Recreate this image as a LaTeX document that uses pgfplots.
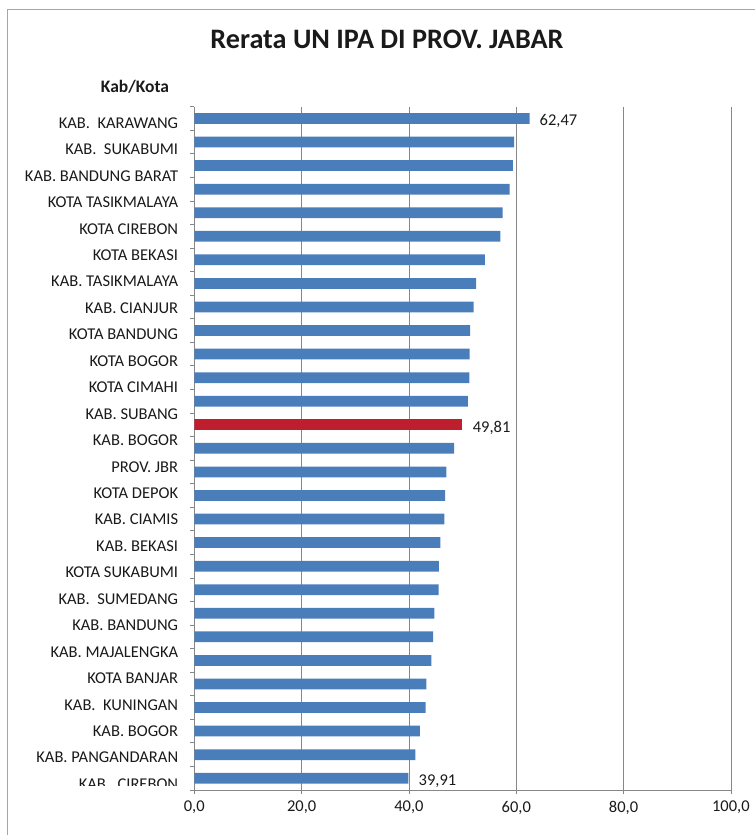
\documentclass[border=0pt]{standalone}
\usepackage{pgfplots}
\pgfplotsset{compat=1.18}
\usepackage{fontspec}
\setmainfont{Carlito}

\definecolor{barblue}{HTML}{4A7EBB}
\definecolor{barred}{HTML}{BE1E2D}
\definecolor{gridgray}{HTML}{878787}
\definecolor{framegray}{HTML}{A6A6A6}
\definecolor{txt}{HTML}{1A1A1A}

\pgfplotsset{
  hbar/.style={xbar, bar width=10.7pt, bar shift=0pt, draw=none},
}
\newcommand{\lblfont}{\fontsize{16.5}{19}\selectfont}

\begin{document}
\begin{tikzpicture}[x=1pt,y=1pt]
\useasboundingbox (0,0) rectangle (755,835);
\draw[framegray, line width=1pt] (7,0) -- (7,825) -- (755,825);
\node[font=\fontsize{28.2}{32}\selectfont\bfseries, text=txt] at (387,796) {Rerata UN IPA DI PROV. JABAR};
\node[font=\fontsize{17.5}{20}\selectfont\bfseries, text=txt] at (135,748) {Kab/Kota};

\begin{axis}[
  at={(194.3pt,45pt)}, anchor=south west,
  scale only axis, width=536.6pt, height=683.3pt,
  xmin=0, xmax=100, ymin=0.5, ymax=29.5,
  axis x line*=bottom, axis y line*=left,
  x axis line style={gridgray, line width=0.8pt},
  y axis line style={draw=none},
  xtick={0,20,...,100},
  xmajorgrids, major grid style={gridgray, line width=0.8pt},
  tick align=outside, major tick length=4pt, minor tick length=4pt,
  x tick style={gridgray, line width=0.8pt},
  major y tick style={draw=none},
  minor y tick style={gridgray, line width=0.8pt},
  minor ytick={0.5,1.5,...,29.5},
  ytick={28.808,27.686,26.563,25.441,24.319,23.196,22.074,20.952,19.829,18.707,17.585,16.463,15.340,14.218,13.096,11.973,10.851,9.729,8.606,7.484,6.362,5.239,4.117,2.995,1.873,0.750},
  yticklabels={KAB.\ \ KARAWANG, KAB.\ \ SUKABUMI, KAB. BANDUNG BARAT, KOTA TASIKMALAYA, KOTA CIREBON, KOTA BEKASI, KAB. TASIKMALAYA, KAB. CIANJUR, KOTA BANDUNG, KOTA BOGOR, KOTA CIMAHI, KAB. SUBANG, KAB. BOGOR, PROV. JBR, KOTA DEPOK, KAB. CIAMIS, KAB. BEKASI, KOTA SUKABUMI, KAB.\ \ SUMEDANG, KAB. BANDUNG, KAB. MAJALENGKA, KOTA BANJAR, KAB.\ \ KUNINGAN, KAB. BOGOR, KAB. PANGANDARAN, KAB.\ \ CIREBON},
  tick label style={font=\lblfont, text=txt},
  yticklabel style={anchor=east, inner sep=0pt, xshift=-12pt},
  xticklabel style={anchor=north, inner sep=0pt, yshift=-7pt,
    /pgf/number format/.cd, fixed, fixed zerofill, precision=1, use comma, assume math mode=true},
]
% blue bars without labels
\addplot[hbar, fill=barblue] coordinates {
  (59.58,28) (59.39,27) (58.77,26) (57.47,25) (57.03,24) (54.17,23)
  (52.50,22) (52.06,21) (51.38,20) (51.32,19) (51.25,18) (51.00,17)
  (48.40,15) (46.97,14) (46.72,13) (46.60,12) (45.85,11) (45.60,10)
  (45.54,9) (44.73,8) (44.50,7) (44.17,6) (43.24,5) (43.12,4)
  (42.06,3) (41.19,2)
};
% labelled bars
\addplot[hbar, fill=barblue, point meta=x,
  nodes near coords={\pgfmathprintnumber[fixed, fixed zerofill, precision=2, use comma, assume math mode=true]{\pgfplotspointmeta}},
  nodes near coords style={anchor=west, inner sep=0pt, xshift=10pt, yshift=-2.5pt, font=\lblfont, text=txt}]
  coordinates {(62.47,29) (39.91,1)};
\addplot[hbar, fill=barred, point meta=x,
  nodes near coords={\pgfmathprintnumber[fixed, fixed zerofill, precision=2, use comma, assume math mode=true]{\pgfplotspointmeta}},
  nodes near coords style={anchor=west, inner sep=0pt, xshift=11pt, yshift=-3.5pt, font=\lblfont, text=txt}]
  coordinates {(49.81,16)};
\end{axis}
\fill[white] (9,38) rectangle (186,49);
\end{tikzpicture}
\end{document}
